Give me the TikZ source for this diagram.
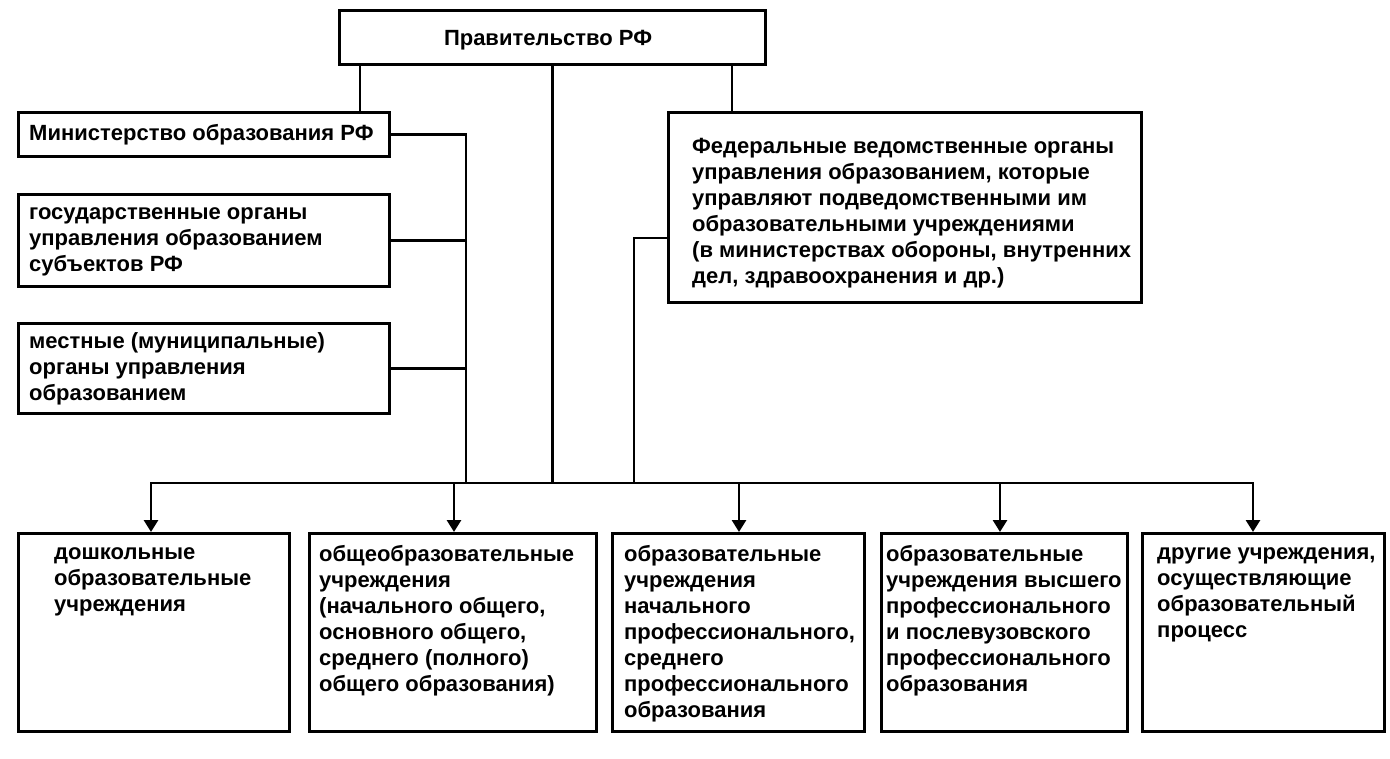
\documentclass[tikz,border=0pt]{standalone}
\usepackage{fontspec}
\setmainfont{Liberation Sans}
\usetikzlibrary{arrows.meta}
\begin{document}
\begin{tikzpicture}[x=1pt,y=-1pt,
  box/.style={draw, line width=3pt, inner sep=0pt, anchor=north west},
  txt/.style={anchor=north west, inner sep=0pt, align=left, font=\fontsize{22}{26}\selectfont\bfseries},
  conn/.style={line width=2.8pt, line cap=rect},
  arr/.style={line width=2.8pt, -{Triangle[length=12pt,width=14pt]}}]
\useasboundingbox[fill=white] (0,0) rectangle (1390,759);
% boxes
\node[box, minimum width=426pt, minimum height=54pt] (gov) at (338,9) {};
\node[anchor=base, inner sep=0pt, font=\fontsize{22}{26}\selectfont\bfseries] (govt) at (548,46) {Правительство РФ};
\node[box, minimum width=371pt, minimum height=44pt] (mini) at (17,111) {};
\node[txt] (minit) at (29,121.8) {\strut Министерство образования РФ};
\node[box, minimum width=371pt, minimum height=92pt] (reg) at (17,193) {};
\node[txt] (regt) at (29,200.8) {\strut государственные органы\\управления образованием\\субъектов РФ};
\node[box, minimum width=371pt, minimum height=90pt] (loc) at (17,322) {};
\node[txt] (loct) at (29,329.8) {\strut местные (муниципальные)\\органы управления\\образованием};
\node[box, minimum width=473pt, minimum height=190pt] (fed) at (667,111) {};
\node[txt] (fedt) at (692,134.8) {\strut Федеральные ведомственные органы\\управления образованием, которые\\управляют подведомственными им\\образовательными учреждениями\\(в министерствах обороны, внутренних\\дел, здравоохранения и др.)};
% bottom boxes
\node[box, minimum width=271pt, minimum height=198pt] (e1) at (17,532) {};
\node[txt] (e1t) at (54,540.8) {\strut дошкольные\\образовательные\\учреждения};
\node[box, minimum width=287pt, minimum height=198pt] (e2) at (308,532) {};
\node[txt] (e2t) at (319,542.8) {\strut общеобразовательные\\учреждения\\(начального общего,\\основного общего,\\среднего (полного)\\общего образования)};
\node[box, minimum width=252pt, minimum height=198pt] (e3) at (611,532) {};
\node[txt] (e3t) at (624,542.8) {\strut образовательные\\учреждения\\начального\\профессионального,\\среднего\\профессионального\\образования};
\node[box, minimum width=246pt, minimum height=198pt] (e4) at (880,532) {};
\node[txt] (e4t) at (886,542.8) {\strut образовательные\\учреждения высшего\\профессионального\\и послевузовского\\профессионального\\образования};
\node[box, minimum width=242pt, minimum height=198pt] (e5) at (1141,532) {};
\node[txt] (e5t) at (1157,540.8) {\strut другие учреждения,\\осуществляющие\\образовательный\\процесс};
% coordinates
\coordinate (c1) at (360,0);
\coordinate (c3) at (732,0);
\coordinate (lv) at (466,0);
\coordinate (fv) at (634,238);
\coordinate (a1) at (151,483);
\coordinate (a2) at (454,483);
\coordinate (a3) at (739,483);
\coordinate (a4) at (1000,483);
\coordinate (a5) at (1253,483);
% connectors
\draw[conn] (gov.south -| c1) -- (mini.north -| c1);
\draw[conn] (gov.south -| c3) -- (fed.north -| c3);
\draw[conn] (gov.south) -- (gov.south |- a1);
\draw[conn] (mini.east) -- (mini.east -| lv) -- (lv |- a1);
\draw[conn] (reg.east) -- (reg.east -| lv);
\draw[conn] (loc.east) -- (loc.east -| lv);
\draw[conn] (fed.west |- fv) -- (fv) -- (fv |- a1);
\draw[conn] (a1) -- (a5);
\draw[arr] (a1) -- (a1 |- e1.north);
\draw[arr] (a2) -- (a2 |- e2.north);
\draw[arr] (a3) -- (a3 |- e3.north);
\draw[arr] (a4) -- (a4 |- e4.north);
\draw[arr] (a5) -- (a5 |- e5.north);
\end{tikzpicture}
\end{document}
